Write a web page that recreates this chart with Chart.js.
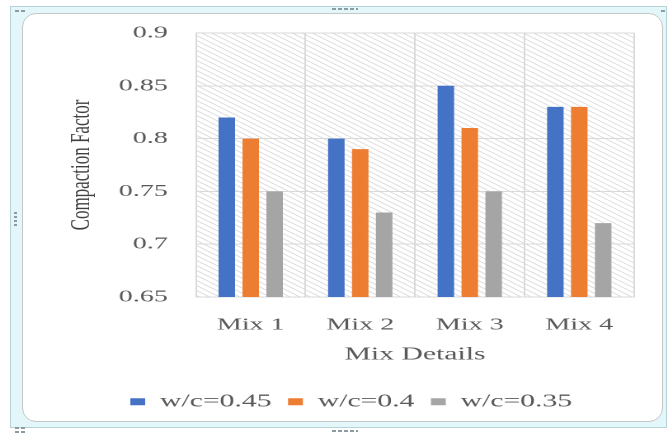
<!DOCTYPE html>
<html>
<head>
<meta charset="utf-8">
<script src="https://cdn.jsdelivr.net/npm/chart.js@4/dist/chart.umd.min.js"></script>
<style>
  html, body { margin: 0; padding: 0; background: #fff; width: 668px; height: 433px; overflow: hidden; position: relative; }
  #frame { position: absolute; left: 10px; top: 6px; width: 655px; height: 420px; background: #e3f6fa; border: 1px solid #b7d3d8; }
  #panel { position: absolute; left: 22px; top: 13px; width: 639px; height: 407px; background: #fff; border: 1px solid #c6c6c6; border-radius: 14px; }
  .hdots { position: absolute; height: 2px; background: repeating-linear-gradient(90deg, #8d9ba3 0 4px, transparent 4px 6px); }
  .vdots { position: absolute; width: 3px; background: repeating-linear-gradient(180deg, #8d9ba3 0 2px, transparent 2px 4px); }
  #wrap { position: absolute; left: 0; top: 0; width: 405px; height: 433px; transform: scaleX(1.6494); transform-origin: 0 0; }
</style>
</head>
<body>
<div id="frame"></div>
<div id="panel"></div>
<div class="hdots" style="left:332px;top:8px;width:26px"></div>
<div class="hdots" style="left:332px;top:430px;width:26px"></div>
<div class="vdots" style="left:14px;top:212px;height:16px"></div>
<div class="hdots" style="left:15px;top:10px;width:10px"></div>
<div class="hdots" style="left:15px;top:427px;width:10px"></div>
<div class="hdots" style="left:15px;top:431px;width:10px"></div>
<div class="hdots" style="left:661px;top:10px;width:5px"></div>
<div id="wrap"><canvas id="c" width="405" height="433"></canvas></div>
<script>
// Compaction factor of each mix for three water/cement ratios
const categories = ['Mix 1', 'Mix 2', 'Mix 3', 'Mix 4'];
const seriesNames = ['w/c=0.45', 'w/c=0.4', 'w/c=0.35'];
const wc045 = [0.82, 0.80, 0.85, 0.83];
const wc040 = [0.80, 0.79, 0.81, 0.83];
const wc035 = [0.75, 0.73, 0.75, 0.72];
const yTicks = [0.65, 0.7, 0.75, 0.8, 0.85, 0.9];

const colors = ['#4472c4', '#ed7d31', '#a5a5a5'];
const textColor = '#595959';
const gridColor = '#d9d9d9';
const serif = '"Liberation Serif", "Times New Roman", serif';

// diagonal hatch behind the plot area
const hatchPlugin = {
  id: 'hatch',
  beforeDraw(chart) {
    const { ctx, chartArea: a } = chart;
    const slope = 0.82, step = 5;
    ctx.save();
    ctx.beginPath();
    ctx.rect(a.left, a.top, a.right - a.left, a.bottom - a.top);
    ctx.clip();
    ctx.strokeStyle = '#dadada';
    ctx.lineWidth = 0.8;
    ctx.beginPath();
    const w = a.right - a.left;
    for (let y = a.top - slope * w; y < a.bottom; y += step) {
      ctx.moveTo(a.left, y);
      ctx.lineTo(a.right, y + slope * w);
    }
    ctx.stroke();
    ctx.restore();
  }
};

const datasets = [wc045, wc040, wc035].map((vals, i) => ({
  label: seriesNames[i],
  data: vals,
  backgroundColor: colors[i],
  borderWidth: 0,
  categoryPercentage: 0.655,
  barPercentage: 0.69
}));

new Chart(document.getElementById('c'), {
  type: 'bar',
  data: { labels: categories, datasets },
  plugins: [hatchPlugin],
  options: {
    responsive: false,
    devicePixelRatio: 2,
    animation: false,
    layout: { padding: { left: 41.5, right: 20.6, top: 33, bottom: 12.2 } },
    plugins: {
      tooltip: { enabled: false },
      legend: {
        position: 'bottom',
        labels: {
          boxWidth: 9,
          boxHeight: 7,
          padding: 10,
          color: textColor,
          font: { family: serif, size: 18 }
        }
      }
    },
    scales: {
      x: {
        grid: { color: gridColor, drawTicks: false, offset: true },
        border: { display: true, color: gridColor },
        ticks: { color: textColor, padding: 18, font: { family: serif, size: 17 } },
        title: {
          display: true, text: 'Mix Details', color: textColor,
          font: { family: serif, size: 18 }, padding: { top: 0, bottom: 17 }
        },
        afterFit(scale) { scale.height = 85.8; }
      },
      y: {
        min: 0.65,
        max: 0.9,
        grid: { color: gridColor, drawTicks: false },
        border: { display: true, color: gridColor },
        afterBuildTicks(scale) { scale.ticks = yTicks.map(v => ({ value: v })); },
        ticks: {
          color: textColor, padding: 17,
          font: { family: serif, size: 17 },
          callback: v => String(+v.toFixed(2))
        },
        title: {
          display: true, text: 'Compaction Factor', color: '#404040',
          font: { family: serif, size: 17 }, padding: { top: -2.2, bottom: 0 }
        },
        afterFit(scale) { scale.width = 77.3; }
      }
    }
  }
});
</script>
</body>
</html>
